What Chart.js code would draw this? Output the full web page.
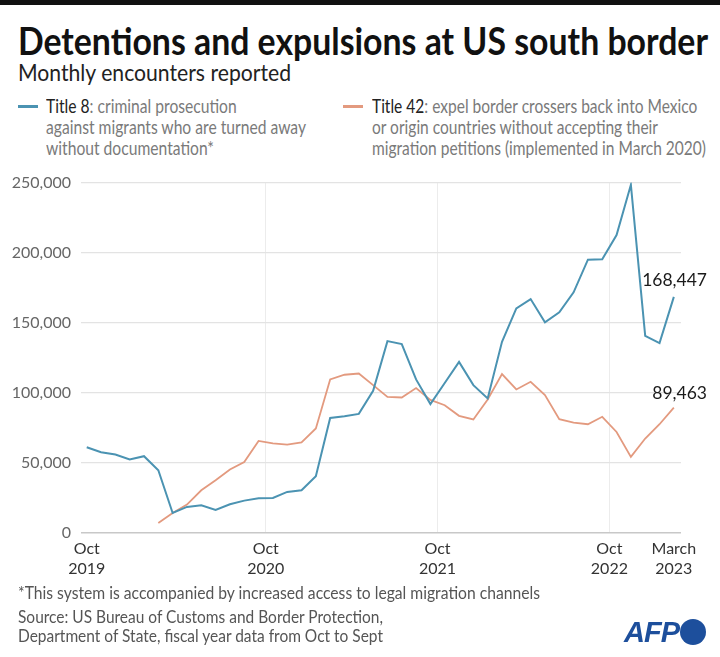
<!DOCTYPE html>
<html>
<head>
<meta charset="utf-8">
<script src="https://cdn.jsdelivr.net/npm/chart.js@4.4.0/dist/chart.umd.min.js"></script>
<style>
  body { margin: 0; background: #fff; }
  #page { position: relative; width: 720px; height: 657px; overflow: hidden; font-family: "Lato", sans-serif; }
  .t { position: absolute; white-space: nowrap; transform-origin: 0 0; }
  #topbar { position: absolute; left: 0; top: 0; width: 720px; height: 5px; background: #111; }
  #title { left: 18px; top: 21px; font-size: 38px; line-height: 38px; font-weight: bold; color: #111; }
  #subtitle { left: 18px; top: 60px; font-size: 24px; line-height: 24px; color: #222; }
  .legend { top: 95px; font-size: 19px; line-height: 21px; color: #7a7a7a; }
  .legend b { font-weight: normal; color: #222; }
  .swatch { position: absolute; width: 20px; height: 3px; top: 105px; }
  #foot { left: 18px; top: 582px; font-size: 18px; line-height: 20px; color: #555; }
  #source { left: 18px; top: 607px; font-size: 18px; line-height: 19px; color: #555; }
  #afp { left: 624px; top: 617px; font-family: "Liberation Sans", Arial, sans-serif; font-size: 29px; line-height: 30px; font-weight: bold; font-style: italic; color: #1d4f9c; letter-spacing: -1px; }
  #dot { position: absolute; left: 680px; top: 619px; width: 26px; height: 26px; border-radius: 50%; background: #1d4f9c; }
  #wrap { position: absolute; left: 0; top: 163px; width: 720px; height: 422px; }
</style>
</head>
<body>
<div id="page">
  <div id="topbar"></div>
  <div class="t" id="title" data-w="690">Detentions and expulsions at US south border</div>
  <div class="t" id="subtitle" data-w="273">Monthly encounters reported</div>

  <div class="swatch" style="left:18px;background:#4b93b2"></div>
  <div class="t legend" style="left:46px" data-w="260"><b>Title 8</b>: criminal prosecution<br>against migrants who are turned away<br>without documentation*</div>
  <div class="swatch" style="left:343px;background:#e39a7f"></div>
  <div class="t legend" style="left:372px" data-w="334"><b>Title 42</b>: expel border crossers back into Mexico<br>or origin countries without accepting their<br>migration petitions (implemented in March 2020)</div>

  <div id="wrap"><canvas id="myChartBorder" width="720" height="422"></canvas></div>

  <div class="t" id="foot" data-w="522">*This system is accompanied by increased access to legal migration channels</div>
  <div class="t" id="source" data-w="365">Source: US Bureau of Customs and Border Protection,<br>Department of State, fiscal year data from Oct to Sept</div>
  <div class="t" id="afp">AFP</div>
  <div id="dot"></div>
</div>

<script>
// months Oct 2019 .. Mar 2023
const months = [
  "2019-10", "2019-11", "2019-12", "2020-01", "2020-02", "2020-03", "2020-04", "2020-05", "2020-06",
  "2020-07", "2020-08", "2020-09", "2020-10", "2020-11", "2020-12", "2021-01", "2021-02", "2021-03",
  "2021-04", "2021-05", "2021-06", "2021-07", "2021-08", "2021-09", "2021-10", "2021-11", "2021-12",
  "2022-01", "2022-02", "2022-03", "2022-04", "2022-05", "2022-06", "2022-07", "2022-08", "2022-09",
  "2022-10", "2022-11", "2022-12", "2023-01", "2023-02", "2023-03",
];

const title8 = [
  61200, 57600, 56000, 52400, 54800, 44800, 14300, 18600, 19800,
  16400, 20500, 23100, 24800, 25000, 29300, 30500, 40500, 82100,
  83300, 85000, 101500, 136900, 134800, 109600, 92000, 107000, 122100,
  105500, 96000, 136400, 160300, 166900, 150300, 157400, 171700, 195000,
  195300, 212600, 248400, 140700, 135500, 168447,
];

// Title 42 starts in March 2020
const title42 = [
  null, null, null, null, null, 7100, 14300, 20300, 30500,
  37600, 45300, 50700, 65700, 64000, 63100, 64600, 74600, 109600,
  112900, 113800, 105500, 97100, 96700, 103400, 95000, 91200, 83600,
  81000, 95300, 113400, 102400, 107900, 98400, 81200, 78800, 77600,
  82900, 72100, 54300, 67400, 77600, 89463,
];

const xTickPos = [0, 12.5, 24.5, 36.5, 41];
const xTickLabels = [["Oct", "2019"], ["Oct", "2020"], ["Oct", "2021"], ["Oct", "2022"], ["March", "2023"]];
const xGridPos = [12.5, 24.5, 36.5];
const yTickValues = [0, 50000, 100000, 150000, 200000, 250000];

// squeeze the html text to the widths of the reference
document.querySelectorAll("[data-w]").forEach((el) => {
  const w = el.getBoundingClientRect().width;
  el.style.transform = "scaleX(" + el.dataset.w / w + ")";
});

const FONT = '"Lato", sans-serif';
Chart.defaults.font.family = FONT;

const endLabels = {
  id: "endLabels",
  afterDatasetsDraw(chart) {
    const ctx = chart.ctx;
    chart.data.datasets.forEach((ds, i) => {
      const meta = chart.getDatasetMeta(i);
      const pt = meta.data[meta.data.length - 1];
      const last = ds.data[ds.data.length - 1].y;
      ctx.save();
      ctx.font = "17.5px " + FONT;
      ctx.fillStyle = "#1a1a1a";
      ctx.textAlign = "right";
      ctx.textBaseline = "middle";
      ctx.fillText(last.toLocaleString("en-US"), 707, pt.y - ds.labelOffset);
      ctx.restore();
    });
  },
};

const toPoints = (arr) => arr.map((v, i) => ({ x: i, y: v }));

new Chart(document.getElementById("myChartBorder"), {
  type: "line",
  data: {
    datasets: [
      {
        label: "Title 8",
        data: toPoints(title8),
        borderColor: "#4b93b2",
        borderWidth: 2,
        pointRadius: 0,
        tension: 0,
        labelOffset: 17,
      },
      {
        label: "Title 42",
        data: toPoints(title42),
        borderColor: "#e39a7f",
        borderWidth: 1.8,
        pointRadius: 0,
        tension: 0,
        spanGaps: false,
        labelOffset: 14,
      },
    ],
  },
  options: {
    responsive: false,
    animation: false,
    devicePixelRatio: 1,
    layout: { padding: { top: 12.5, right: 39, bottom: 0, left: 0 } },
    plugins: { legend: { display: false }, tooltip: { enabled: false } },
    scales: {
      x: {
        type: "linear",
        min: -0.4,
        max: 41.5,
        afterBuildTicks: (s) => { s.ticks = xTickPos.map((v) => ({ value: v })); },
        afterFit: (s) => { s.height = 52; },
        ticks: {
          autoSkip: false,
          maxRotation: 0,
          padding: 6,
          color: "#333",
          font: { size: 16, lineHeight: 1.25 },
          callback: (v, i) => xTickLabels[i],
        },
        grid: {
          drawTicks: false,
          lineWidth: 1,
          color: (c) => (c.tick && xGridPos.includes(c.tick.value) ? "#ececec" : "rgba(0,0,0,0)"),
        },
        border: { display: false },
      },
      y: {
        min: 0,
        max: 250000,
        afterBuildTicks: (s) => { s.ticks = yTickValues.map((v) => ({ value: v })); },
        afterFit: (s) => { s.width = 81; },
        ticks: {
          padding: 10,
          color: "#666",
          font: { size: 16 },
          callback: (v) => v.toLocaleString("en-US"),
        },
        grid: {
          drawTicks: false,
          color: (c) => (c.tick && c.tick.value === 0 ? "#c8c8c8" : "#e3e3e3"),
          lineWidth: (c) => (c.tick && c.tick.value === 0 ? 1.5 : 1.2),
        },
        border: { display: false },
      },
    },
  },
  plugins: [endLabels],
});
</script>
</body>
</html>
